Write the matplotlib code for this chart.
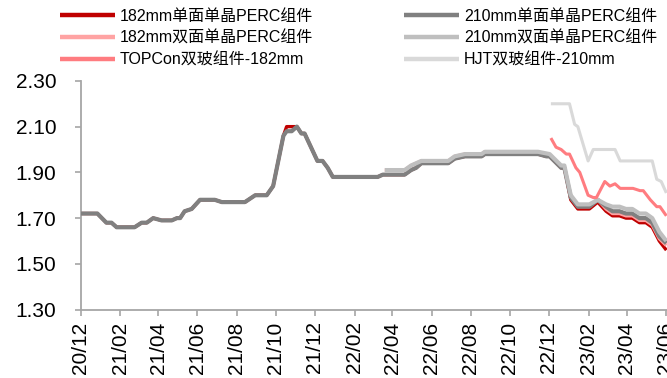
import matplotlib
matplotlib.use("Agg")
import matplotlib.pyplot as plt
import matplotlib.dates as mdates
import pandas as pd

plt.rcParams['font.family'] = ['Liberation Sans', 'Noto Sans CJK SC']

# weekly price readings (yuan/W), single-side modules
mono_dates = ["2020-12-01", "2020-12-27", "2021-01-10", "2021-01-18", "2021-01-26", "2021-02-23",
              "2021-03-06", "2021-03-14", "2021-03-24", "2021-04-06", "2021-04-22", "2021-04-30",
              "2021-05-05", "2021-05-12", "2021-05-23", "2021-06-05", "2021-06-28", "2021-07-09",
              "2021-08-14", "2021-08-30", "2021-09-17", "2021-09-27", "2021-10-13", "2021-10-18",
              "2021-10-26", "2021-11-03", "2021-11-10", "2021-11-15", "2021-11-25", "2021-12-05",
              "2021-12-13", "2021-12-21", "2021-12-29", "2022-03-09", "2022-03-17", "2022-04-20",
              "2022-04-30", "2022-05-08", "2022-05-16", "2022-06-27", "2022-07-07", "2022-07-23",
              "2022-08-18", "2022-08-23", "2022-11-14", "2022-11-27", "2022-12-02", "2022-12-20",
              "2022-12-25", "2022-12-28", "2023-01-04", "2023-01-15", "2023-02-02", "2023-02-15",
              "2023-02-28", "2023-03-10", "2023-03-21", "2023-03-31", "2023-04-10", "2023-04-21",
              "2023-05-01", "2023-05-11", "2023-05-22", "2023-06-02"]
p210_mono = [1.72, 1.72, 1.68, 1.68, 1.66, 1.66, 1.68, 1.68, 1.70, 1.69, 1.69, 1.70,
             1.70, 1.73, 1.74, 1.78, 1.78, 1.77, 1.77, 1.80, 1.80, 1.84, 2.06, 2.08,
             2.08, 2.10, 2.07, 2.07, 2.01, 1.95, 1.95, 1.92, 1.88, 1.88, 1.89, 1.89,
             1.91, 1.92, 1.94, 1.94, 1.96, 1.97, 1.97, 1.98, 1.98, 1.97, 1.97, 1.92,
             1.92, 1.88, 1.79, 1.75, 1.75, 1.78, 1.75, 1.73, 1.73, 1.72, 1.72, 1.70,
             1.70, 1.68, 1.62, 1.59]
p182_mono = [1.72, 1.72, 1.68, 1.68, 1.66, 1.66, 1.68, 1.68, 1.70, 1.69, 1.69, 1.70,
             1.70, 1.73, 1.74, 1.78, 1.78, 1.77, 1.77, 1.80, 1.80, 1.84, 2.06, 2.10,
             2.10, 2.10, 2.07, 2.07, 2.01, 1.95, 1.95, 1.92, 1.88, 1.88, 1.89, 1.89,
             1.91, 1.92, 1.94, 1.94, 1.96, 1.97, 1.97, 1.98, 1.98, 1.97, 1.97, 1.92,
             1.92, 1.88, 1.78, 1.74, 1.74, 1.77, 1.73, 1.71, 1.71, 1.70, 1.70, 1.68,
             1.68, 1.66, 1.60, 1.56]

# bifacial modules
bi_dates = ["2022-03-20", "2022-04-20", "2022-04-30", "2022-05-16", "2022-06-27", "2022-07-07",
            "2022-07-23", "2022-08-18", "2022-08-23", "2022-11-14", "2022-12-02", "2022-12-20",
            "2022-12-25", "2022-12-28", "2023-01-04", "2023-01-15", "2023-02-02", "2023-02-15",
            "2023-02-28", "2023-03-10", "2023-03-21", "2023-03-31", "2023-04-10", "2023-04-21",
            "2023-05-01", "2023-05-11", "2023-05-22", "2023-06-02"]
p210_bi = [1.91, 1.91, 1.93, 1.95, 1.95, 1.97, 1.98, 1.98, 1.99, 1.99, 1.98, 1.93,
           1.93, 1.89, 1.80, 1.76, 1.76, 1.78, 1.76, 1.75, 1.75, 1.74, 1.74, 1.72,
           1.72, 1.70, 1.64, 1.60]
p182_bi = [1.91, 1.91, 1.93, 1.95, 1.95, 1.97, 1.98, 1.98, 1.99, 1.99, 1.97, 1.92,
           1.92, 1.88, 1.79, 1.75, 1.75, 1.78, 1.74, 1.72, 1.72, 1.71, 1.71, 1.69,
           1.69, 1.67, 1.61, 1.58]

# n-type modules
topcon_dates = ["2022-12-04", "2022-12-12", "2022-12-20", "2022-12-28", "2023-01-02", "2023-01-12",
                "2023-01-18", "2023-01-31", "2023-02-08", "2023-02-13", "2023-02-26", "2023-03-06",
                "2023-03-14", "2023-03-22", "2023-04-11", "2023-04-22", "2023-04-27", "2023-05-08",
                "2023-05-18", "2023-05-23", "2023-06-02"]
p_topcon = [2.05, 2.01, 2.00, 1.98, 1.98, 1.92, 1.90, 1.80, 1.79, 1.79, 1.86, 1.84,
            1.85, 1.83, 1.83, 1.82, 1.82, 1.78, 1.75, 1.75, 1.71]
hjt_dates = ["2022-12-04", "2023-01-02", "2023-01-10", "2023-01-15", "2023-01-31", "2023-02-08",
             "2023-03-14", "2023-03-22", "2023-05-11", "2023-05-18", "2023-05-25", "2023-06-02"]
p_hjt = [2.20, 2.20, 2.11, 2.10, 1.95, 2.00, 2.00, 1.95, 1.95, 1.87, 1.86, 1.81]

fig = plt.figure(figsize=(6.67, 3.78), dpi=100)
ax = fig.add_axes([0.121, 0.181, 0.879, 0.605])

md = pd.to_datetime(mono_dates)
bd = pd.to_datetime(bi_dates)
kw = dict(solid_joinstyle="round", solid_capstyle="butt")

l1, = ax.plot(md, p182_mono, color="#C00000", lw=2.4, zorder=2, label="182mm单面单晶PERC组件", **kw)
l3, = ax.plot(bd, p182_bi, color="#FFA3A3", lw=2.4, zorder=3, label="182mm双面单晶PERC组件", **kw)
l2, = ax.plot(md, p210_mono, color="#808080", lw=3.0, zorder=4, label="210mm单面单晶PERC组件", **kw)
l4, = ax.plot(bd, p210_bi, color="#BFBFBF", lw=3.0, zorder=5, label="210mm双面单晶PERC组件", **kw)
l5, = ax.plot(pd.to_datetime(topcon_dates), p_topcon, color="#FF7C80", lw=2.2, zorder=6,
              label="TOPCon双玻组件-182mm", **kw)
l6, = ax.plot(pd.to_datetime(hjt_dates), p_hjt, color="#D9D9D9", lw=2.2, zorder=6,
              label="HJT双玻组件-210mm", **kw)

ax.set_xlim(pd.Timestamp("2020-12-01"), pd.Timestamp("2023-06-03"))
ax.set_ylim(1.30, 2.30)
ax.set_yticks([1.30, 1.50, 1.70, 1.90, 2.10, 2.30])
ax.yaxis.set_major_formatter(plt.FormatStrFormatter("%.2f"))
ax.xaxis.set_major_locator(mdates.MonthLocator(bymonth=[2, 4, 6, 8, 10, 12]))
ax.xaxis.set_major_formatter(mdates.DateFormatter("%y/%m"))

for s in ["top", "right"]:
    ax.spines[s].set_visible(False)
for s in ["left", "bottom"]:
    ax.spines[s].set_color("#A6A6A6")
    ax.spines[s].set_linewidth(1.3)
ax.tick_params(axis="y", direction="out", length=4.5, width=1.2, color="#A6A6A6",
               labelsize=15, pad=13)
ax.tick_params(axis="x", direction="out", length=4.5, width=1.2, color="#A6A6A6",
               labelsize=15, pad=4, labelrotation=90)

handles = [l1, l3, l5, l2, l4, l6]
fig.legend(handles=handles, labels=[h.get_label() for h in handles], ncol=2,
           loc="upper left", bbox_to_anchor=(0.09, 0.977), frameon=False,
           fontsize=11.5, handlelength=3.45, handletextpad=0.3, columnspacing=5.7,
           labelspacing=0.42, borderpad=0, borderaxespad=0)
for h in fig.legends[0].legend_handles:
    h.set_linewidth(3.2)

fig.savefig("out.png", dpi=100)
